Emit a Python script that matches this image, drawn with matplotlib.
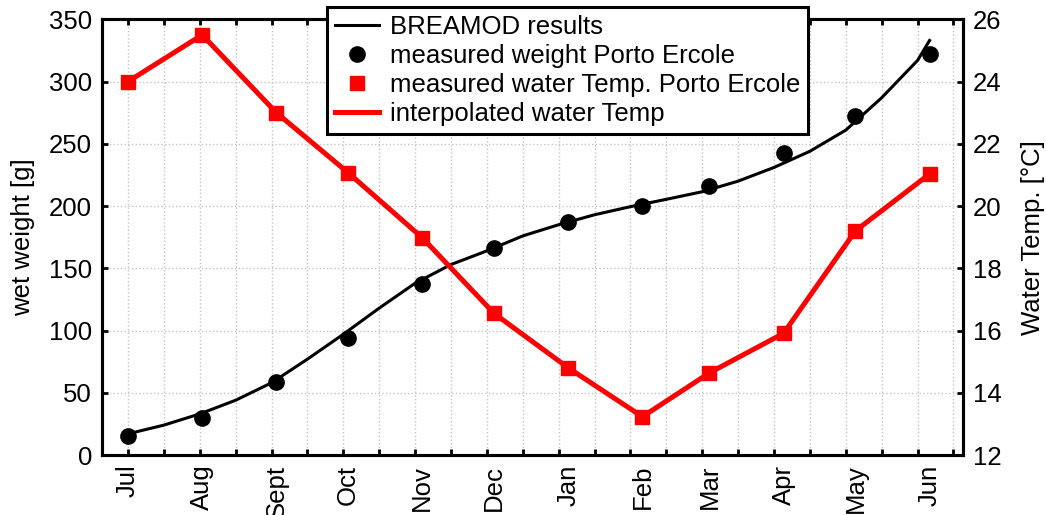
import numpy as np
import pandas as pd
import matplotlib
matplotlib.use("Agg")
import matplotlib.pyplot as plt
from matplotlib.lines import Line2D

plt.rcParams['font.family'] = ['Liberation Sans', 'DejaVu Sans']

# sampling dates (first of each month, Jul -> Jun)
months = ["Jul", "Aug", "Sept", "Oct", "Nov", "Dec", "Jan", "Feb", "Mar", "Apr", "May", "Jun"]
month_start = pd.date_range("2000-07-01", periods=12, freq="MS")
day = np.asarray((month_start - month_start[0]).days)

# measurements Porto Ercole
weight_meas = [15.5, 30, 58.5, 94, 137.5, 166, 187, 200, 216, 243, 272, 322]
temp_meas = [24.0, 25.5, 23.0, 21.07, 18.98, 16.55, 14.8, 13.23, 14.64, 15.91, 19.2, 21.03]

# BREAMOD model output (read every 15 days)
model_day = [0, 15, 30, 45, 60, 75, 90, 105, 120, 135, 150, 165, 180, 195, 210,
             225, 240, 255, 270, 285, 300, 315, 330, 335]
model_weight = [17, 24, 33, 44, 58, 77, 97, 118, 138, 153, 164, 176, 185, 193, 199.5,
                205.4, 211.5, 220, 231, 244, 261, 287, 317, 333]

fig = plt.figure(figsize=(10.46, 5.15), dpi=100)
ax = fig.add_axes([0.0972, 0.1165, 0.8235, 0.846])
ax2 = ax.twinx()

ax.plot(model_day, model_weight, color="black", lw=2.2, zorder=3)
ax.plot(day, weight_meas, "o", color="black", ms=11, zorder=4)
ax2.plot(day, temp_meas, "-", color="red", lw=3.6, zorder=3)
ax2.plot(day, temp_meas, "s", color="red", ms=10, zorder=4)

ax.set_xlim(-11, 349)
ax.set_ylim(0, 350)
ax2.set_ylim(12, 26)

fs = 18.5
ax.xaxis.remove_overlapping_locs = False
ax.set_xticks(np.arange(0, 349, 15))
ax.set_xticklabels([])
ax.set_xticks(day, minor=True)
ax.set_xticklabels(months, minor=True, rotation=90, fontsize=fs)
ax.tick_params(axis="x", which="minor", length=0, pad=7)
ax.tick_params(axis="x", which="major", direction="in", length=4, width=2, top=True)

ax.set_yticks(np.arange(0, 351, 50))
ax.tick_params(axis="y", direction="in", length=4, width=2, labelsize=fs, pad=7)
ax2.set_yticks(np.arange(12, 27, 2))
ax2.tick_params(axis="y", direction="in", length=4, width=2, labelsize=fs, pad=7)

ax.grid(True, which="major", color="#c4c4c4", linestyle=":", linewidth=1)
for a in (ax, ax2):
    for s in a.spines.values():
        s.set_linewidth(2.2)

ax.set_ylabel("wet weight [g]", fontsize=fs, labelpad=10)
ax2.set_ylabel("Water Temp. [°C]", fontsize=fs, labelpad=14)

handles = [
    Line2D([], [], color="black", lw=2.2),
    Line2D([], [], marker="o", ls="none", color="black", ms=11),
    Line2D([], [], marker="s", ls="none", color="red", ms=10),
    Line2D([], [], color="red", lw=3.6),
]
labels = ["BREAMOD results", "measured weight Porto Ercole",
          "measured water Temp. Porto Ercole", "interpolated water Temp"]
leg = fig.legend(handles, labels, loc="upper left",
                 bbox_to_anchor=(327.3 / 1046, 1 - 7.3 / 515),
                 fontsize=fs, frameon=True, fancybox=False, framealpha=1,
                 edgecolor="black", labelspacing=0.2, handlelength=1.7,
                 handletextpad=0.45, borderpad=0.3, borderaxespad=0)
leg.get_frame().set_linewidth(2.2)
leg.set_zorder(10)

fig.savefig("out.png", dpi=100)
